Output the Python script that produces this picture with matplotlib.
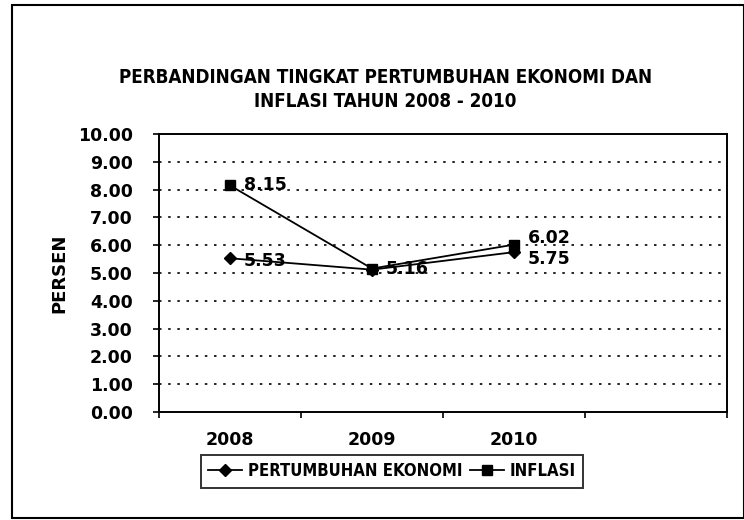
import matplotlib.pyplot as plt
import numpy as np
from matplotlib.patches import Rectangle

years = ["2008", "2009", "2010", ""]
ekonomi = [5.53, 5.12, 5.75]
inflasi = [8.15, 5.16, 6.02]
ekonomi_labels = ["5.53", "", "5.75"]
inflasi_labels = ["8.15", "5.16", "6.02"]
y_ticks = np.arange(0, 11, 1)

fig = plt.figure(figsize=(7.44, 5.2), dpi=100)
ax = fig.add_axes([0.2137, 0.2077, 0.977 - 0.2137, 0.7423 - 0.2077])

x = np.arange(len(ekonomi)) + 0.5
ax.plot(x, ekonomi, color="black", lw=1.3, marker="D", markersize=6.5, label="PERTUMBUHAN EKONOMI")
ax.plot(x, inflasi, color="black", lw=1.3, marker="s", markersize=7.5, label="INFLASI")

# data labels, right of the points
for xi, v, t in zip(x, ekonomi, ekonomi_labels):
    if t:
        dy = -5 if t == "5.75" else -2
        ax.annotate(t, (xi, v), xytext=(10, dy), textcoords="offset points",
                    ha="left", va="center", fontsize=12.5, fontweight="bold")
for xi, v, t in zip(x, inflasi, inflasi_labels):
    dy = 5 if t == "6.02" else 0
    ax.annotate(t, (xi, v), xytext=(10, dy), textcoords="offset points",
                ha="left", va="center", fontsize=12.5, fontweight="bold")

ax.set_xlim(0, len(years))
ax.set_ylim(0, 10)
ax.set_xticks(np.arange(len(years) + 1))
ax.set_xticklabels([])
ax.set_xticks(np.arange(len(years)) + 0.5, minor=True)
ax.set_xticklabels(years, minor=True, fontsize=12.5, fontweight="bold")
ax.tick_params(axis="x", which="minor", length=0, pad=14)
ax.tick_params(axis="x", which="major", length=4, direction="out", width=1.2)

ax.set_yticks(y_ticks)
ax.set_yticklabels([f"{v:.2f}" for v in y_ticks], fontsize=12.5, fontweight="bold")
ax.tick_params(axis="y", length=4, direction="out", width=1.2, pad=15)

for v in y_ticks[1:-1]:
    ax.axhline(v, color="black", lw=1.2, linestyle=(0, (1.5, 4)), zorder=0)
for s in ax.spines.values():
    s.set_linewidth(1.4)

ax.set_ylabel("PERSEN", fontsize=13, fontweight="bold", labelpad=7)

fig.text(0.518, 0.828, "PERBANDINGAN TINGKAT PERTUMBUHAN EKONOMI DAN\nINFLASI TAHUN 2008 - 2010",
         ha="center", va="center", fontsize=13.5, fontweight="bold", fontstretch="condensed",
         linespacing=1.3)

leg = fig.legend(loc="center", bbox_to_anchor=(0.527, 0.094), ncol=2, frameon=True,
                 fancybox=False, edgecolor="black", handlelength=2.0, handletextpad=0.35,
                 columnspacing=0.5, borderpad=0.45,
                 prop={"weight": "bold", "size": 12, "stretch": "condensed"})
leg.get_frame().set_linewidth(1.4)

fig.patches.append(Rectangle((12 / 744, 0.003), 1 - 12 / 744, 1 - 5 / 520 - 0.003,
                             transform=fig.transFigure, fill=False, edgecolor="black", lw=1.5))

fig.savefig("out.png", dpi=100)
